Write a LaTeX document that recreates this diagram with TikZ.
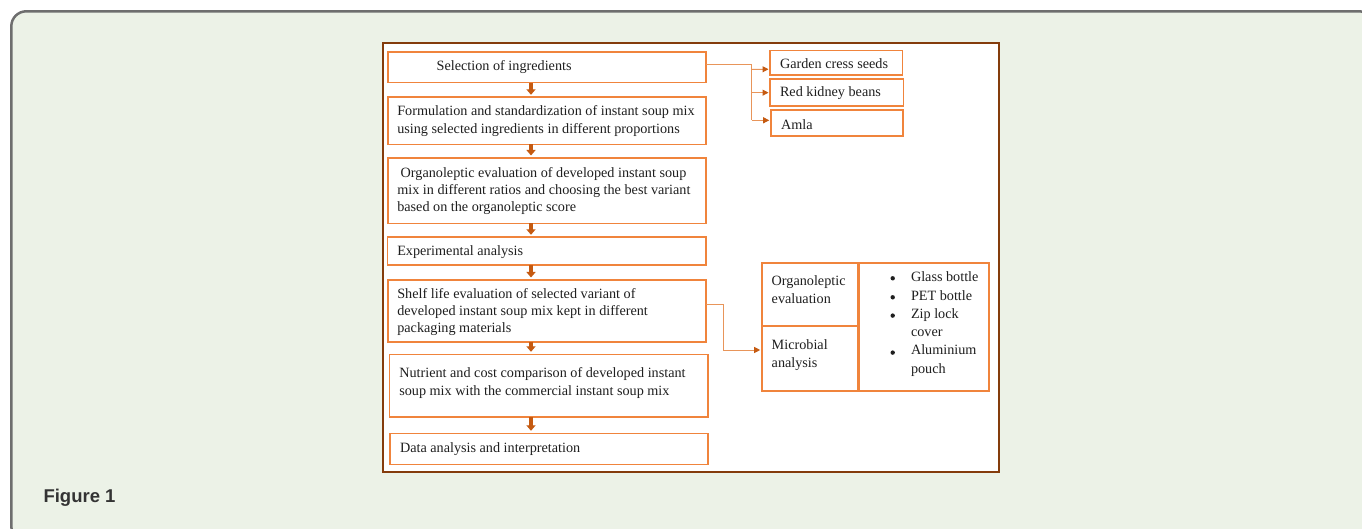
\documentclass[tikz,border=0pt]{standalone}
\usepackage{fontspec}
\setmainfont{Liberation Serif}
\newfontfamily\figfont{Liberation Sans}
\usetikzlibrary{arrows.meta}
\definecolor{bgc}{HTML}{ECF2E7}
\definecolor{framegray}{HTML}{6E6E6E}
\definecolor{brownf}{HTML}{843C0C}
\definecolor{boxor}{HTML}{F0843C}
\definecolor{arrowor}{HTML}{C55A11}
\definecolor{linec}{HTML}{E8955A}
\definecolor{txt}{HTML}{1F1F1F}
\definecolor{figtxt}{HTML}{333333}
\newcommand\mybox[6][]{\node[#1, anchor=north west, minimum width={(#5-#3)*1pt}, minimum height={(#6-#4)*1pt}] (#2) at (#3,#4) {};}
\newcommand\ml[1]{\parbox[t]{320pt}{\raggedright #1}}
\begin{document}
\begin{tikzpicture}[x=1pt,y=-1pt,
 flowbox/.style={draw=boxor, line width=1.6pt, fill=white, rectangle, inner sep=0pt, outer sep=0pt},
 frameb/.style={draw=brownf, line width=1.8pt, fill=white, rectangle, inner sep=0pt, outer sep=0pt},
 txtnode/.style={anchor=base west, inner sep=0pt, outer sep=0pt, text=txt, font=\fontsize{14.2}{17.3}\selectfont},
 sidetxt/.style={txtnode, font=\fontsize{14.2}{18.3}\selectfont},
 downarr/.style={draw=arrowor, line width=3.2pt, -{Triangle[width=9pt,length=5.5pt]}, shorten >=2.5pt},
 conn/.style={draw=linec, line width=1pt},
 connarr/.style={conn, -{Triangle[width=6pt,length=6pt,fill=arrowor,color=arrowor]}, shorten >=1.5pt},
 bulletdot/.style={circle, fill=txt, inner sep=0pt, minimum size=4.4pt},
]
\useasboundingbox (0,0) rectangle (1362,529);
\clip (0,0) rectangle (1362,529);
\fill[white] (0,0) rectangle (1362,529);
\draw[draw=framegray, line width=2.5pt, fill=bgc, rounded corners=15pt] (11.3,11.3) rectangle (1374,541);

% inner frame
\mybox[frameb]{frame}{382.7}{43.3}{999}{471.7}

% main flow boxes
\mybox[flowbox]{b1}{388}{52.3}{706}{82.7}
\mybox[flowbox]{b2}{388}{97.3}{706}{144.5}
\mybox[flowbox]{b3}{388}{158}{706}{223.5}
\mybox[flowbox]{b4}{387.5}{237.3}{706}{265}
\mybox[flowbox]{b5}{388}{280}{706}{341.7}
\mybox[flowbox]{b6}{389.5}{354.3}{708}{417}
\mybox[flowbox]{b7}{390}{433.3}{708}{464.3}

% ingredient boxes
\mybox[flowbox]{g1}{770}{50.7}{902.5}{75}
\mybox[flowbox]{g2}{770}{79.3}{903.3}{106}
\mybox[flowbox]{g3}{770.7}{110.3}{903}{136.3}

% shelf life boxes
\mybox[flowbox]{o1}{761.7}{263.3}{857.7}{325.7}
\mybox[flowbox]{o2}{761.7}{325.7}{857.7}{390.7}
\mybox[flowbox]{pk}{859}{263.3}{989}{390.7}

% texts
\node[txtnode] (t1) at (436.7,71) {Selection of ingredients};
\node[txtnode] (t2) at (397.3,116) {\ml{Formulation and standardization of instant soup mix\\using selected ingredients in different proportions}};
\node[txtnode] (t3) at (397.3,177.3) {\ml{\hspace*{3.4pt}Organoleptic evaluation of developed instant soup\\mix in different ratios and choosing the best variant\\based on the organoleptic score}};
\node[txtnode] (t4) at (397.3,255.5) {Experimental analysis};
\node[txtnode] (t5) at (397.3,298.3) {\ml{Shelf life evaluation of selected variant of\\developed instant soup mix kept in different\\packaging materials}};
\node[txtnode] (t6) at (399.3,377.7) {\ml{Nutrient and cost comparison of developed instant\\soup mix with the commercial instant soup mix}};
\node[txtnode] (t7) at (400,452.7) {Data analysis and interpretation};

\node[txtnode] (tg1) at (780,68.3) {Garden cress seeds};
\node[txtnode] (tg2) at (780,96.7) {Red kidney beans};
\node[txtnode] (tg3) at (781,129.3) {Amla};

\node[sidetxt] (to1) at (771.7,285) {\ml{Organoleptic\\evaluation}};
\node[sidetxt] (to2) at (771.7,349) {\ml{Microbial\\analysis}};

\node[sidetxt] (p1) at (911,281.7) {\ml{Glass bottle\\PET bottle\\Zip lock\\cover\\Aluminium\\pouch}};
\foreach \yy [count=\i] in {278.3,297.3,315.6,352.6} {
  \node[bulletdot] (bu\i) at (892.7,\yy) {};
}

% down arrows
\coordinate (ax) at (531,0);
\draw[downarr] (b1.south -| ax) -- (b2.north -| ax);
\draw[downarr] (b2.south -| ax) -- (b3.north -| ax);
\draw[downarr] (b3.south -| ax) -- (b4.north -| ax);
\draw[downarr] (b4.south -| ax) -- (b5.north -| ax);
\draw[downarr] (b5.south -| ax) -- (b6.north -| ax);
\draw[downarr] (b6.south -| ax) -- (b7.north -| ax);

% connector to ingredients
\coordinate (j1) at (751.7,64.3);
\coordinate (j1b) at (751.7,120.3);
\draw[conn] (b1.east |- j1) -- (j1) -- (j1b);
\draw[connarr] (j1 |- 0,69.3) -- ([yshift=-6.4pt]g1.west);
\draw[connarr] (j1 |- g2.west) -- (g2.west);
\draw[connarr] (j1b) -- (g3.west |- j1b);

% connector to analysis
\coordinate (j2) at (723.3,304.3);
\coordinate (j2b) at (723.3,350);
\draw[conn] (b5.east |- j2) -- (j2) -- (j2b);
\draw[connarr] (j2b) -- (o2.west |- j2b);

% caption
\node[anchor=base west, inner sep=0pt, text=figtxt, font=\figfont\fontsize{18.5}{22}\selectfont\bfseries] (cap) at (43.3,502.7) {Figure 1};
\end{tikzpicture}
\end{document}
